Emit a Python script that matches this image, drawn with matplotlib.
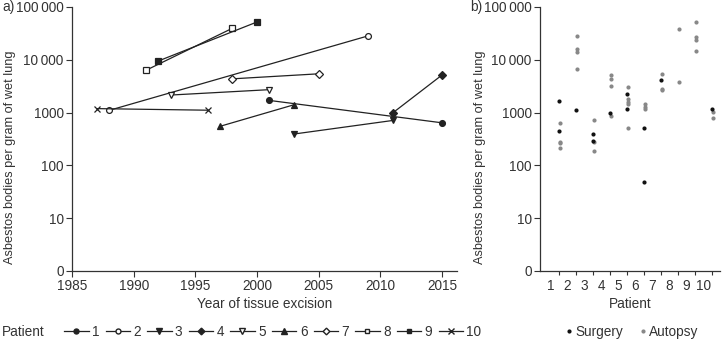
import matplotlib
matplotlib.use("Agg")
import matplotlib.pyplot as plt
from matplotlib.lines import Line2D
import numpy as np

plt.rcParams['font.family'] = ['Liberation Sans', 'DejaVu Sans']
plt.rcParams['text.color'] = '#333333'
plt.rcParams['axes.labelcolor'] = '#333333'
plt.rcParams['xtick.color'] = '#333333'
plt.rcParams['ytick.color'] = '#333333'

# panel a: year of excision and count per patient
patients = [1, 2, 3, 4, 5, 6, 7, 8, 9, 10]
years = [[2001, 2015], [1988, 2009], [2003, 2011], [2011, 2015], [1993, 2001],
         [1997, 2003], [1998, 2005], [1991, 1998], [1992, 2000], [1987, 1996]]
counts = [[1700, 640], [1100, 28400], [393, 710], [990, 5180], [2150, 2720],
          [550, 1410], [4360, 5430], [6340, 39600], [9500, 52100], [1190, 1110]]
markers = ['o', 'o', 'v', 'D', 'v', '^', 'D', 's', 's', 'x']
filled = [True, False, True, True, False, True, False, False, True, True]

# panel b: surgery and autopsy samples per patient
surgery = {1: [1680, 452], 2: [1100], 3: [393, 291], 4: [1000], 5: [2220, 1170],
           6: [518, 48], 7: [4230], 10: [1150]}
autopsy = {1: [628, 279, 265, 212], 2: [28400, 15900, 14000, 6760],
           3: [711, 276, 191], 4: [5180, 4360, 3130, 850],
           5: [2990, 1780, 1600, 1460, 512], 6: [1480, 1250, 1150],
           7: [5500, 2850, 2720], 8: [39000, 3730],
           9: [52700, 26700, 23800, 15000], 10: [1030, 780]}

yticks = [1, 10, 100, 1000, 10000, 100000]
yticklabels = ['0', '10', '100', '1000', '10\u2009000', '100\u2009000']

W, H = 722, 341
fig = plt.figure(figsize=(W / 100, H / 100), dpi=100)
ax1 = fig.add_axes([72 / W, 70 / H, 385 / W, 264 / H])
ax2 = fig.add_axes([540 / W, 70 / H, 180 / W, 264 / H])

fs = 9.8
ink = '#222222'

handles = []
for p, yr, c, m, f in zip(patients, years, counts, markers, filled):
    ms = 5 if m == 'x' else (4.2 if m in ('o', 's') else 4.6)
    if m == 'D':
        ms = 4.0
    line, = ax1.plot(yr, c, color=ink, lw=0.9, marker=m, ms=ms,
                     mfc=ink if f else 'white', mec=ink, mew=0.9)
    handles.append(line)

for ax in (ax1, ax2):
    ax.set_yscale('log')
    ax.set_ylim(1, 100000)
    ax.set_yticks(yticks)
    ax.set_yticklabels(yticklabels)
    ax.minorticks_off()
    ax.spines[['top', 'right']].set_visible(False)
    ax.spines[['left', 'bottom']].set_color('#333333')
    ax.spines[['left', 'bottom']].set_linewidth(0.9)
    ax.tick_params(axis='both', labelsize=fs, length=4, width=0.8, pad=2)
    ax.set_ylabel('Asbestos bodies per gram of wet lung', fontsize=9.2)

ax1.set_xlim(1985, 2016.2)
ax1.set_xticks(np.arange(1985, 2016, 5))
ax1.set_xlabel('Year of tissue excision', fontsize=fs, labelpad=3)
ax1.yaxis.set_label_coords(-0.146, 0.43)

for p, vals in surgery.items():
    ax2.scatter([p] * len(vals), vals, s=9, color='#111111', lw=0, zorder=3)
for p, vals in autopsy.items():
    ax2.scatter([p + 0.08] * len(vals), vals, s=9, color='#888888', lw=0, zorder=2)

ax2.set_xlim(-0.12, 10.47)
ax2.set_xticks(patients)
ax2.set_xticklabels([''] * 10)
ax2.set_xticks(np.array(patients) - 0.5, minor=True)
ax2.set_xticklabels([str(p) for p in patients], minor=True)
ax2.tick_params(axis='x', which='minor', length=0, labelsize=fs, pad=6)
ax2.tick_params(axis='x', which='major', length=3)
ax2.set_xlabel('Patient', fontsize=fs, labelpad=3)
ax2.yaxis.set_label_coords(-0.3, 0.43)

fig.text(2 / W, 1 - 7 / H, 'a)', fontsize=fs, va='center', ha='left')
fig.text(470 / W, 1 - 7 / H, 'b)', fontsize=fs, va='center', ha='left')

# legends along the bottom
fig.text(2 / W, 1 - 332 / H, 'Patient', fontsize=fs, va='center', ha='left')
leg_handles = [Line2D([], [], color=h.get_color(), lw=0.9, marker=h.get_marker(),
                      ms=h.get_markersize() * 0.85, mfc=h.get_mfc(), mec=ink)
               for h in handles]
fig.legend(leg_handles, [str(p) for p in patients], ncol=10, frameon=False,
           loc='center left', bbox_to_anchor=(64 / W, 1 - 332 / H),
           fontsize=fs, handlelength=1.8, handletextpad=0.25,
           columnspacing=0.45, borderpad=0, borderaxespad=0)

sh = [Line2D([], [], ls='', marker='o', ms=3, color='#111111', mew=0),
      Line2D([], [], ls='', marker='o', ms=3, color='#888888', mew=0)]
fig.legend(sh, ['Surgery', 'Autopsy'], ncol=2, frameon=False,
           loc='center left', bbox_to_anchor=(566 / W, 1 - 332 / H),
           fontsize=fs, handlelength=0.5, handletextpad=0.2,
           columnspacing=1.2, borderpad=0, borderaxespad=0)

fig.savefig('out.png', dpi=100)
